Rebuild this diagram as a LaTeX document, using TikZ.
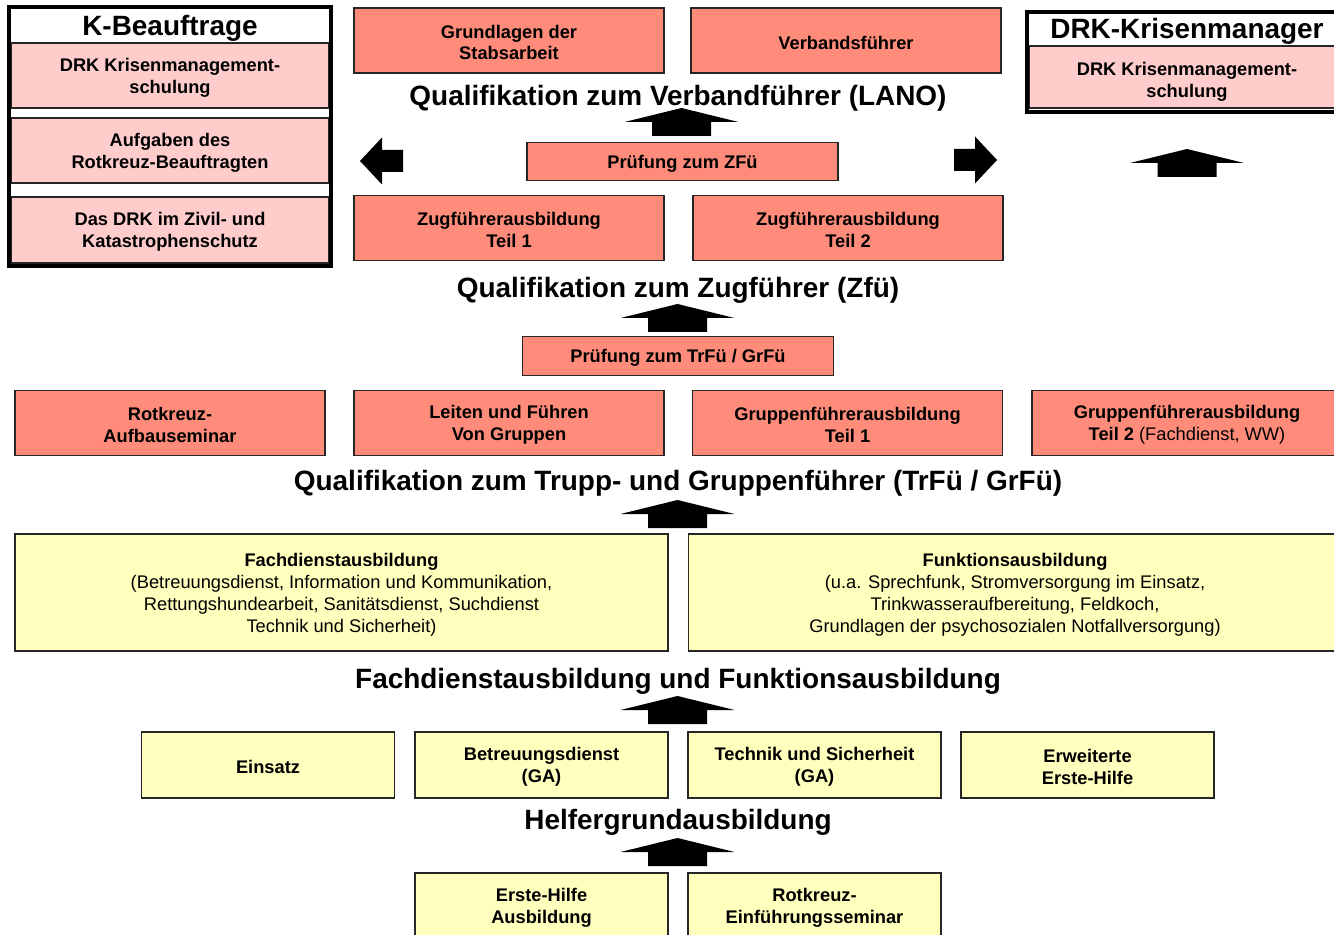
\documentclass[tikz,border=0pt]{standalone}
\usepackage{fontspec}
\setmainfont{Liberation Sans}
\usepackage{xcolor}
\usepackage{tikz}
\usetikzlibrary{positioning}

\definecolor{lachs}{RGB}{255,140,122}
\definecolor{rosa}{RGB}{255,204,204}
\definecolor{gelb}{RGB}{255,255,190}
\newcommand{\obenhoehe}{22.3pt}

\begin{document}
\begin{tikzpicture}[x=0.02cm, y=-0.02cm,
    oben/.code={\renewcommand{\obenhoehe}{#1}},
    feld/.style={draw=black!85, line width=0.8pt, rectangle, align=center, inner sep=0pt,
                 font=\bfseries\fontsize{10.4}{12.5}\selectfont, oben=22.3pt,
                 execute at begin node={\rule{0pt}{\obenhoehe}}},
    kurs/.style={feld, fill=lachs, minimum width=6.2cm, minimum height=1.3cm},
    pruef/.style={feld, fill=lachs, minimum width=6.22cm, minimum height=0.77cm, oben=9.8pt},
    modul/.style={feld, fill=rosa, minimum width=6.36cm, minimum height=1.3cm},
    basis/.style={feld, fill=gelb, minimum width=5.06cm, minimum height=1.32cm},
    fach/.style={feld, fill=gelb, minimum width=13.06cm, minimum height=2.34cm, oben=48pt},
    rahmen/.style={draw=black, line width=2.3pt, rectangle, inner sep=0pt},
    titel/.style={inner sep=0pt, font=\bfseries\fontsize{15.9}{18}\selectfont},
    hoch/.pic={\fill (-57,14) -- (0,0) -- (57,14) -- (29.5,14) -- (29.5,28)
                     -- (-29.5,28) -- (-29.5,14) -- cycle;},
    seite/.pic={\fill (0,0) -- (22,-23.5) -- (22,-11) -- (43,-11) -- (43,11)
                      -- (22,11) -- (22,23.5) -- cycle;}]
  \useasboundingbox (0,0) rectangle (1334,935);
  \clip (0,0) rectangle (1334,935);

  % K-Beauftrage
  \node[modul] (kb_1) at (170,75.5)  {DRK Krisenmanagement-\\schulung};
  \node[modul] (kb_2) at (170,150.5) {Aufgaben des\\Rotkreuz-Beauftragten};
  \node[modul, minimum height=1.32cm] (kb_3) at (170,230) {Das DRK im Zivil- und\\Katastrophenschutz};
  \node[titel] (kb_t) at (170,28) {K-Beauftrage};
  \node[rahmen, minimum width=6.44cm, minimum height=5.18cm] (kb) at (170,136.5) {};

  % DRK-Krisenmanager
  \node[modul, minimum width=6.32cm, minimum height=1.24cm, oben=25pt] (km_1) at (1187,77) {DRK Krisenmanagement-\\schulung};
  \node[titel] (km_t) at (1187,31) {DRK-Krisenmanager};
  \node[rahmen, minimum width=6.4cm, minimum height=2cm] (km) at (1187,62) {};

  % Verbandfuehrer
  \node[kurs] (grund)   at (509,40.5) {Grundlagen der\\Stabsarbeit};
  \node[kurs, oben=9.8pt] (verband) at (846,40.5) {Verbandsführer};
  \node[titel] (q_lano) at (678,98) {Qualifikation zum Verbandführer (LANO)};
  \pic at (681.5,108) {hoch};
  \pic at (360,161) {seite};
  \pic[xscale=-1] at (997,160) {seite};
  \pic at (1187,149) {hoch};
  \node[pruef] (p_zf) at (682.5,161.5) {Prüfung zum ZFü};

  % Zugfuehrer
  \node[kurs] (zf_1) at (509,228) {Zugführerausbildung\\Teil 1};
  \node[kurs] (zf_2) at (848,228) {Zugführerausbildung\\Teil 2};
  \node[titel] (q_zf) at (678,290) {Qualifikation zum Zugführer (Zfü)};
  \pic at (677.5,304) {hoch};
  \node[pruef] (p_gf) at (678,356) {Prüfung zum TrFü / GrFü};

  % Trupp- und Gruppenfuehrer
  \node[kurs] (rk_auf) at (170,423)    {Rotkreuz-\\Aufbauseminar};
  \node[kurs] (leiten) at (509,423)    {Leiten und Führen\\Von Gruppen};
  \node[kurs] (gf_1)   at (847.5,423)  {Gruppenführerausbildung\\Teil 1};
  \node[kurs] (gf_2)   at (1187,423)   {Gruppenführerausbildung\\Teil 2 {\mdseries(Fachdienst, WW)}};
  \node[titel] (q_gf) at (678,483) {Qualifikation zum Trupp- und Gruppenführer (TrFü / GrFü)};
  \pic at (677.5,500) {hoch};

  % Fachdienst und Funktion
  \node[fach] (fachd) at (341.5,592.5) {Fachdienstausbildung\\\mdseries(Betreuungsdienst, Information und Kommunikation,\\\mdseries Rettungshundearbeit, Sanitätsdienst, Suchdienst\\\mdseries Technik und Sicherheit)};
  \node[fach] (funkt) at (1015,592.5) {Funktionsausbildung\\\mdseries(u.a. Sprechfunk, Stromversorgung im Einsatz,\\\mdseries Trinkwasseraufbereitung, Feldkoch,\\\mdseries Grundlagen der psychosozialen Notfallversorgung)};
  \node[titel] (q_fach) at (678,681) {Fachdienstausbildung und Funktionsausbildung};
  \pic at (677.5,696) {hoch};

  % Helfergrundausbildung
  \node[basis, oben=9.8pt] (einsatz) at (268,765) {Einsatz};
  \node[basis] (betr)    at (541.5,765)  {Betreuungsdienst\\(GA)};
  \node[basis] (technik) at (814.5,765)  {Technik und Sicherheit\\(GA)};
  \node[basis] (eeh)     at (1087.5,765) {Erweiterte\\Erste-Hilfe};
  \node[titel] (q_helf) at (678,822) {Helfergrundausbildung};
  \pic at (677.5,838) {hoch};
  \node[basis] (eh)     at (541.5,906) {Erste-Hilfe\\Ausbildung};
  \node[basis] (rk_ein) at (814.5,906) {Rotkreuz-\\Einführungsseminar};
\end{tikzpicture}
\end{document}
